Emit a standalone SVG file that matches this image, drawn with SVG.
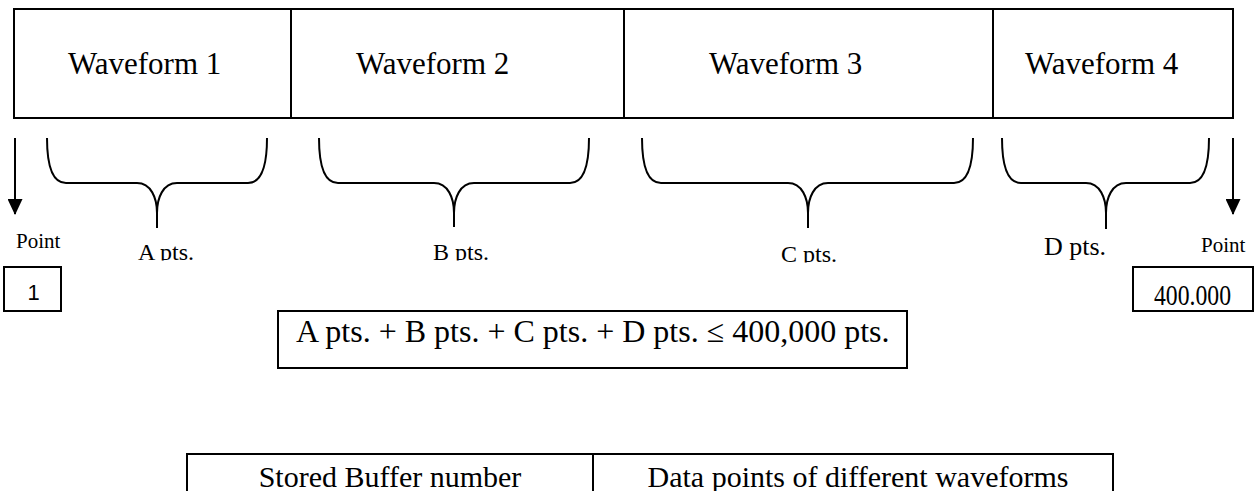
<svg xmlns="http://www.w3.org/2000/svg" width="1254" height="491" viewBox="0 0 1254 491">
<style>
.ln{fill:none;stroke:#000;stroke-width:2}
.t{font-family:"Liberation Serif","Times New Roman",serif;fill:#000}
.s{font-family:"Liberation Sans",Arial,sans-serif;fill:#000}
</style>
<defs>
<marker id="ah" viewBox="0 0 16 15" refX="15" refY="7.5" markerWidth="16" markerHeight="15" markerUnits="userSpaceOnUse" orient="auto">
<path d="M0,0 L16,7.5 L0,15 Z" fill="#000"/>
</marker>
<clipPath id="cA"><rect x="120" y="230" width="100" height="30.5"/></clipPath>
<clipPath id="cB"><rect x="420" y="230" width="100" height="30.5"/></clipPath>
<clipPath id="cC"><rect x="770" y="230" width="100" height="32.5"/></clipPath>
<clipPath id="cN"><rect x="1140" y="270" width="110" height="36"/></clipPath>
</defs>
<rect width="1254" height="491" fill="#fff"/>

<g id="waveform-bar">
<rect class="ln" x="14" y="9" width="1219" height="109"/>
<line class="ln" x1="291" y1="9" x2="291" y2="118"/>
<line class="ln" x1="624" y1="9" x2="624" y2="118"/>
<line class="ln" x1="993" y1="9" x2="993" y2="118"/>
</g>
<g id="wf1"><text class="t" x="68" y="74" font-size="31">Waveform 1</text></g>
<g id="wf2"><text class="t" x="356" y="74" font-size="31">Waveform 2</text></g>
<g id="wf3"><text class="t" x="709" y="74" font-size="31">Waveform 3</text></g>
<g id="wf4"><text class="t" x="1025" y="74" font-size="31">Waveform 4</text></g>

<g id="connectors">
<line class="ln" x1="15" y1="138" x2="15" y2="214" marker-end="url(#ah)"/>
<line class="ln" x1="1233" y1="138" x2="1233" y2="214" marker-end="url(#ah)"/>
<path class="ln" d="M47,138 C47,166 52,183 66,183 L137,183 C151,183 157,198 157,213 L157,228 M157,213 C157,198 163,183 177,183 L248,183 C262,183 267,166 267,138"/>
<path class="ln" d="M319,138 C319,166 324,183 338,183 L434,183 C448,183 454,198 454,213 L454,227 M454,213 C454,198 460,183 474,183 L570,183 C584,183 589,166 589,138"/>
<path class="ln" d="M642,138 C642,166 647,183 661,183 L788,183 C802,183 808,198 808,213 L808,228 M808,213 C808,198 814,183 828,183 L954,183 C968,183 973,166 973,138"/>
<path class="ln" d="M1002,138 C1002,166 1007,183 1021,183 L1086,183 C1100,183 1106,198 1106,213 L1106,229 M1106,213 C1106,198 1112,183 1126,183 L1190,183 C1204,183 1209,166 1209,138"/>
</g>

<g id="labelA"><text class="t" x="138" y="260" font-size="24" clip-path="url(#cA)">A pts.</text></g>
<g id="labelB"><text class="t" x="433" y="260" font-size="24" clip-path="url(#cB)">B pts.</text></g>
<g id="labelC"><text class="t" x="781" y="262" font-size="24" clip-path="url(#cC)">C pts.</text></g>
<g id="labelD"><text class="t" x="1044" y="255" font-size="26">D pts.</text></g>

<g id="point-start">
<text class="t" x="16" y="248" font-size="21">Point</text>
<rect class="ln" x="4" y="267" width="57" height="44"/>
<text class="s" x="27.5" y="300" font-size="22">1</text>
</g>
<g id="point-end">
<text class="t" x="1201" y="252" font-size="21">Point</text>
<rect class="ln" x="1133" y="267" width="120" height="44"/>
<text class="t" x="1154" y="305" font-size="30" textLength="77" lengthAdjust="spacingAndGlyphs" clip-path="url(#cN)">400.000</text>
</g>

<g id="formula">
<rect class="ln" x="278" y="311" width="629" height="57"/>
<text class="t" x="296" y="342" font-size="32">A pts. + B pts. + C pts. + D pts. ≤ 400,000 pts.</text>
</g>

<g id="table">
<path class="ln" d="M187,492 L187,454 L1113,454 L1113,492 M593,454 L593,492"/>
<text class="t" x="390" y="487" font-size="30" text-anchor="middle">Stored Buffer number</text>
<text class="t" x="858" y="487" font-size="30" text-anchor="middle">Data points of different waveforms</text>
</g>
</svg>
